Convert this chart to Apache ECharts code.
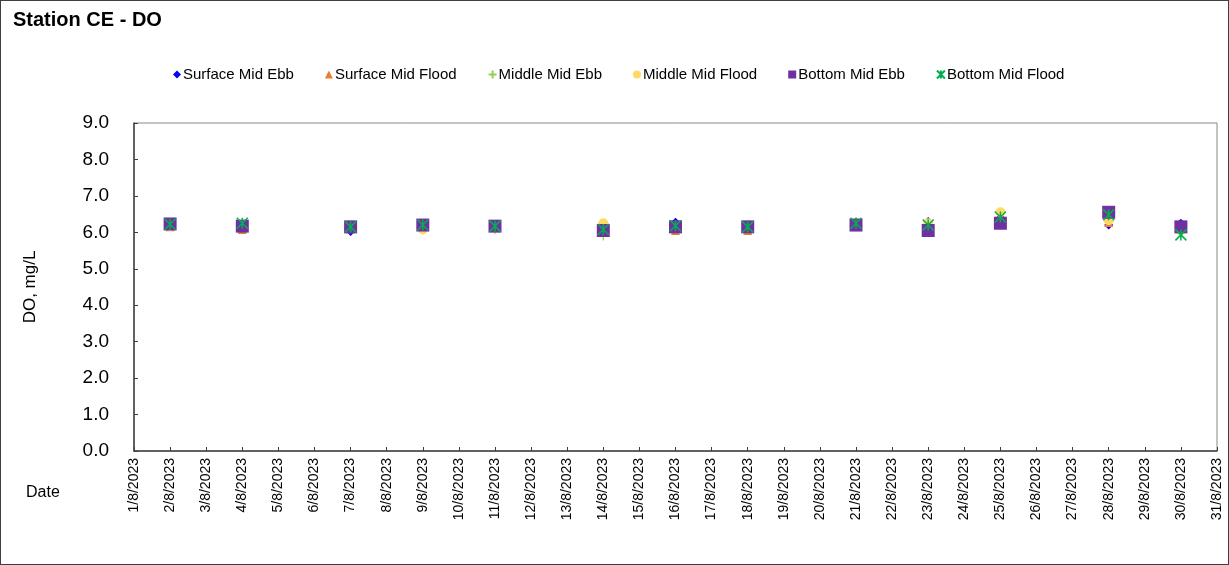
<!DOCTYPE html>
<html>
<head>
<meta charset="utf-8">
<script src="https://cdn.jsdelivr.net/npm/echarts@6/dist/echarts.min.js"></script>
<style>
html, body { margin: 0; padding: 0; background: #fff; }
#chart-main { width: 1229px; height: 565px; box-sizing: border-box; border: 1px solid #3f3f3f; }
</style>
</head>
<body>
<div id="chart-main"></div>
<script>
// sampling dates (August 2023)
var dates = ['2/8/2023', '4/8/2023', '7/8/2023', '9/8/2023', '11/8/2023', '14/8/2023', '16/8/2023',
             '18/8/2023', '21/8/2023', '23/8/2023', '25/8/2023', '28/8/2023', '30/8/2023'];

// DO, mg/L
var surface_ebb   = [6.20, 6.15, 6.02, 6.20, 6.15, 6.10, 6.28, 6.15, 6.20, 6.30, 6.40, 6.20, 6.25];
var surface_flood = [6.15, 6.08, 6.10, 6.20, 6.15, 6.10, 6.05, 6.05, 6.30, 6.25, 6.45, 6.27, 6.10];
var middle_ebb    = [6.20, 6.20, 6.20, 6.12, 6.08, 5.90, 6.15, 6.15, 6.15, 6.20, 6.20, 6.35, 6.10];
var middle_flood  = [6.17, 6.15, 6.20, 6.08, 6.15, 6.25, 6.15, 6.20, 6.20, 6.25, 6.55, 6.33, 6.05];
var bottom_ebb    = [6.23, 6.17, 6.15, 6.20, 6.17, 6.05, 6.15, 6.15, 6.20, 6.05, 6.25, 6.55, 6.15];
var bottom_flood  = [6.22, 6.25, 6.15, 6.20, 6.17, 6.08, 6.18, 6.15, 6.25, 6.20, 6.42, 6.48, 5.93];

var font = 'Liberation Sans, Arial, sans-serif';
var chart = echarts.init(document.getElementById('chart-main'));

function day_of(d) {
    return parseInt(d.split('/')[0]);
}

function pairs(values) {
    return values.map(function (v, i) {
        return [day_of(dates[i]), v];
    });
}

function make_series(name, values, symbol, size, color, stroke) {
    var style = { color: color, opacity: 1 };
    if (stroke) {
        style.borderColor = color;
        style.borderWidth = stroke;
    }
    return {
        name: name,
        type: 'scatter',
        data: pairs(values),
        symbol: symbol,
        symbolSize: size,
        itemStyle: style,
        emphasis: { disabled: true }
    };
}

var plus_path = 'path://M5 0L5 10M0 5L10 5';
var star_path = 'path://M0 0L10 10M10 0L0 10M5 0L5 10';

var option = {
    animation: false,
    title: {
        text: 'Station CE - DO',
        left: 7,
        top: 4,
        textStyle: { fontFamily: font, fontSize: 20, fontWeight: 'bold', color: '#000' }
    },
    legend: {
        top: 61,
        left: 167,
        itemGap: 31,
        itemWidth: 8,
        itemHeight: 8,
        textStyle: { fontFamily: font, fontSize: 15, color: '#000', padding: [0, 0, 0, -3] }
    },
    grid: {
        left: 133,
        right: 11,
        top: 122,
        bottom: 113,
        show: true,
        borderColor: '#898989',
        borderWidth: 1
    },
    xAxis: {
        type: 'value',
        min: 1,
        max: 31,
        interval: 1,
        splitLine: { show: false },
        axisLine: { lineStyle: { color: '#404040', width: 1.5 } },
        axisTick: { inside: true, length: 4, lineStyle: { color: '#404040' } },
        axisLabel: {
            rotate: 90,
            margin: 7,
            fontFamily: font,
            fontSize: 14,
            color: '#000',
            formatter: function (v) { return v + '/8/2023'; }
        }
    },
    yAxis: {
        type: 'value',
        min: 0,
        max: 9,
        interval: 1,
        name: 'DO, mg/L',
        nameLocation: 'middle',
        nameGap: 95,
        nameTextStyle: { fontFamily: font, fontSize: 17, color: '#000' },
        splitLine: { show: false },
        axisLine: { show: true, lineStyle: { color: '#404040', width: 1.5 } },
        axisTick: { show: true, inside: true, length: 4, lineStyle: { color: '#404040' } },
        axisLabel: {
            margin: 25,
            fontFamily: font,
            fontSize: 19,
            color: '#000',
            formatter: function (v) { return v.toFixed(1); }
        }
    },
    graphic: [{
        type: 'text',
        left: 25,
        top: 484,
        style: { text: 'Date', font: '16px ' + font, fill: '#000' }
    }],
    series: [
        make_series('Surface Mid Ebb', surface_ebb, 'diamond', 9, '#0000FF'),
        make_series('Surface Mid Flood', surface_flood, 'triangle', 9, '#ED7D31'),
        make_series('Middle Mid Ebb', middle_ebb, plus_path, 9, '#92D050', 1.2),
        make_series('Middle Mid Flood', middle_flood, 'circle', 10, '#FFD966'),
        make_series('Bottom Mid Ebb', bottom_ebb, 'rect', 13, '#7030A0'),
        make_series('Bottom Mid Flood', bottom_flood, star_path, 11, '#00B050', 1.5)
    ]
};

chart.setOption(option);
</script>
</body>
</html>
